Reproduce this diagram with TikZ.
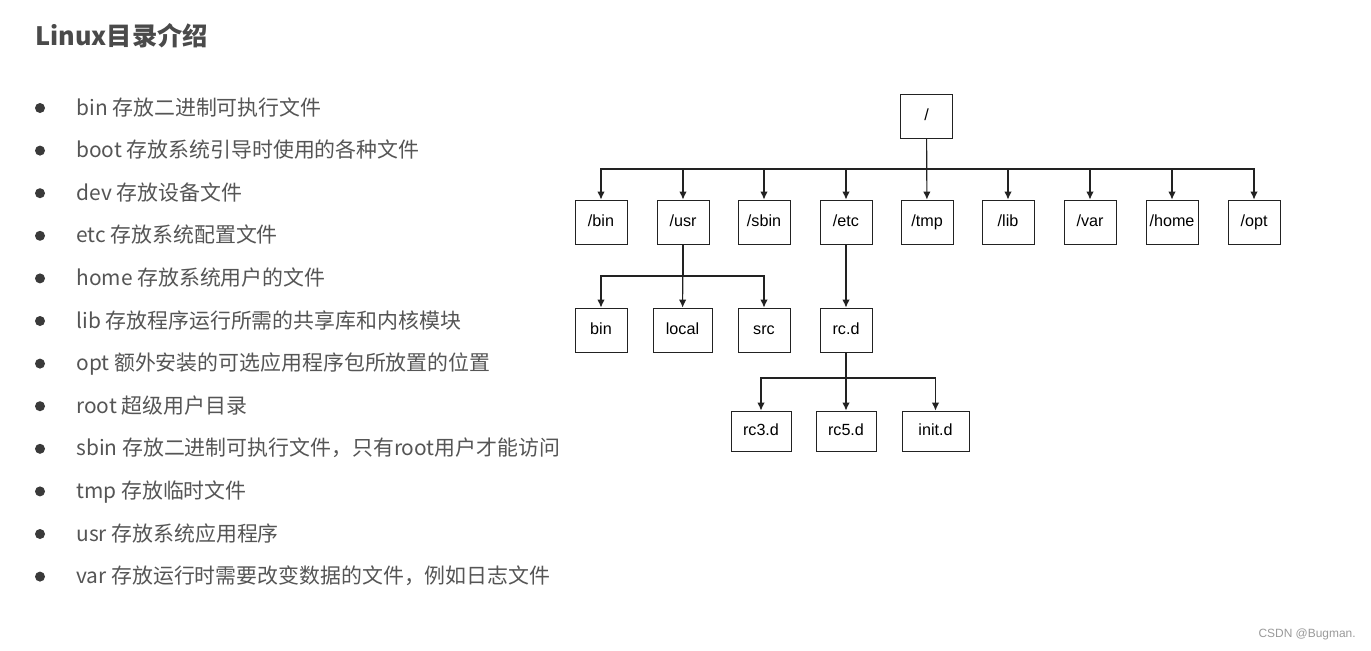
\documentclass[tikz,border=0pt]{standalone}
\usepackage{fontspec}
\setmainfont{Liberation Sans}
\newfontfamily\cjk{Noto Sans CJK SC}
\usetikzlibrary{arrows.meta}
\definecolor{titlegray}{HTML}{4A4A4A}
\definecolor{textgray}{HTML}{555555}
\definecolor{dotgray}{HTML}{3A3A3A}
\definecolor{boxline}{HTML}{222222}
\definecolor{markgray}{HTML}{9A9A9A}

\begin{document}
\begin{tikzpicture}[x=0.02cm, y=-0.02cm,
    dirbox/.style={draw=boxline, line width=0.5pt, minimum width=1.04cm, minimum height=0.88cm,
        inner sep=0pt, text height=7pt, text depth=2pt, font=\fontsize{9.2}{11}\selectfont},
    arr/.style={draw=boxline, line width=0.65pt, -{Latex[length=1.6mm,width=1.5mm]}},
    item/.style={anchor=base west, inner sep=0pt, text=textgray, font=\cjk\fontsize{11.9}{14}\selectfont}]
    \useasboundingbox[fill=white] (0,0) rectangle (1371,650);

    % title and list
    \node[anchor=base west, inner sep=0pt, text=titlegray, font=\cjk\bfseries\fontsize{14.4}{17}\selectfont] (title) at (35,45) {Linux目录介绍};
    \foreach \t [count=\i from 0] in {{bin 存放二进制可执行文件}, {boot 存放系统引导时使用的各种文件}, {dev 存放设备文件},
            {etc 存放系统配置文件}, {home 存放系统用户的文件}, {lib 存放程序运行所需的共享库和内核模块},
            {opt 额外安装的可选应用程序包所放置的位置}, {root 超级用户目录}, {sbin 存放二进制可执行文件，只有root用户才能访问},
            {tmp 存放临时文件}, {usr 存放系统应用程序}, {var 存放运行时需要改变数据的文件，例如日志文件}} {
        \fill[dotgray] (40,108+42.6*\i) circle[radius=0.1cm];
        \node[item] (item\i) at (76,115+42.6*\i) {\t};
    }

    % tree
    \node[dirbox] (root) at (926.5,116.5) {/};
    \foreach \n/\x in {bin/601,usr/683,sbin/764,etc/846,tmp/927,lib/1008,var/1090,home/1172,opt/1254}
        \node[dirbox] (\n) at (\x,222) {/\n};
    \node[dirbox] (ubin) at (601,330) {bin};
    \node[dirbox, minimum width=1.18cm] (local) at (682.5,330) {local};
    \node[dirbox] (src) at (764,330) {src};
    \node[dirbox] (rcd) at (846,330) {rc.d};
    \node[dirbox, minimum width=1.2cm, minimum height=0.8cm] (rc3) at (761,431) {rc3.d};
    \node[dirbox, minimum width=1.2cm, minimum height=0.8cm] (rc5) at (846,431) {rc5.d};
    \node[dirbox, minimum width=1.34cm, minimum height=0.8cm] (initd) at (935.5,431) {init.d};

    \coordinate (bus) at (926.5,169);
    \coordinate (busU) at (683,276);
    \coordinate (busR) at (846,378);
    \draw[arr] (root) -- (tmp);
    \foreach \n in {bin,usr,sbin,etc,lib,var,home,opt}
        \draw[arr] (root) -- (bus) -| (\n);
    \draw[arr] (usr) -- (local);
    \foreach \n in {ubin,src}
        \draw[arr] (usr) -- (busU) -| (\n);
    \draw[arr] (etc) -- (rcd);
    \draw[arr] (rcd) -- (rc5);
    \foreach \n in {rc3,initd}
        \draw[arr] (rcd) -- (busR) -| (\n);

    \node[anchor=base east, inner sep=0pt, text=markgray, font=\fontsize{6.8}{8}\selectfont] (mark) at (1356,637) {CSDN @Bugman.};
\end{tikzpicture}
\end{document}
